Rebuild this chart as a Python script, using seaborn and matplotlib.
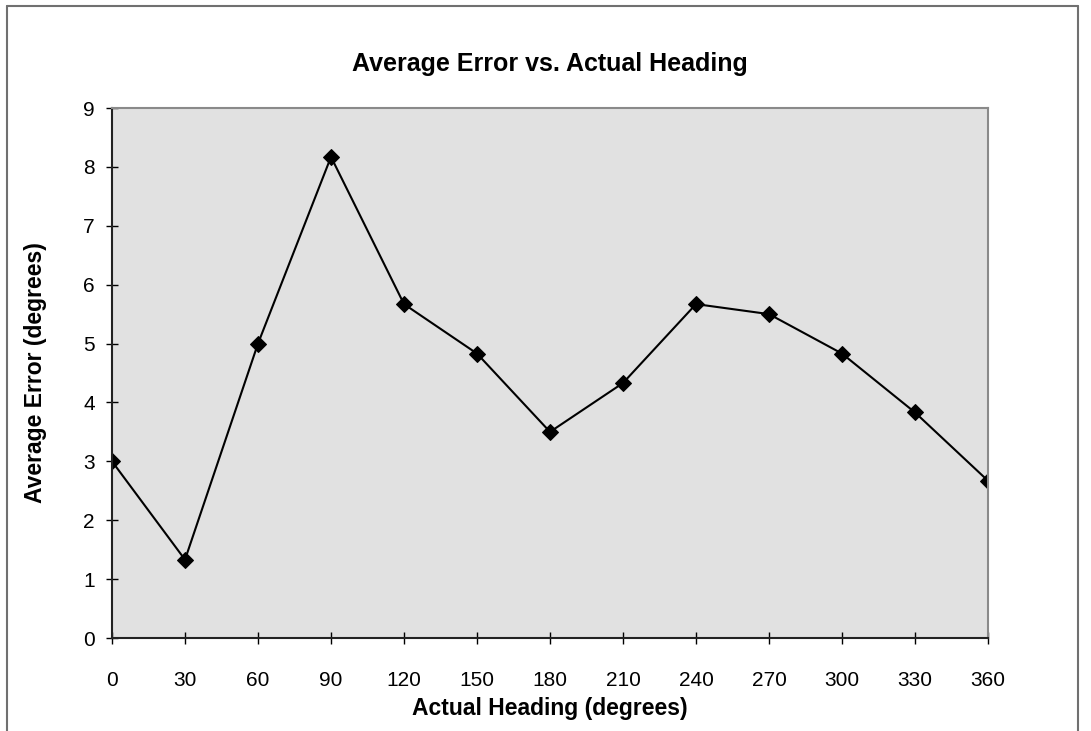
import pandas as pd
import matplotlib.pyplot as plt
import seaborn as sns
from matplotlib.lines import Line2D

heading = [0, 30, 60, 90, 120, 150, 180, 210, 240, 270, 300, 330, 360]
avg_error = [3.0, 1.33, 5.0, 8.17, 5.67, 4.83, 3.5, 4.33, 5.67, 5.5, 4.83, 3.83, 2.67]

df = pd.DataFrame({'heading': heading, 'error': avg_error})

sns.set_style('white')
plt.rcParams['font.family'] = ['Liberation Sans', 'DejaVu Sans']
plt.rcParams['text.color'] = 'black'

fig = plt.figure(figsize=(10.91, 7.31), dpi=100)
ax = fig.add_axes([112 / 1091, 93 / 731, 876 / 1091, 530 / 731])
ax.set_facecolor('#e1e1e1')

sns.lineplot(data=df, x='heading', y='error', ax=ax, color='black', linewidth=1.5,
             marker='D', markersize=8.5, markeredgecolor='black', markerfacecolor='black')

ax.set_xlim(0, 360)
ax.set_ylim(0, 9)
ax.set_xticks(heading)
ax.set_yticks(range(0, 10))
ax.tick_params(axis='both', direction='inout', length=9, width=1, labelsize=15,
               colors='black', bottom=True, left=True)
ax.tick_params(axis='x', pad=19)
ax.tick_params(axis='y', pad=8)

for side in ['left', 'bottom']:
    ax.spines[side].set_color('#222222')
    ax.spines[side].set_linewidth(1.5)
for side in ['top', 'right']:
    ax.spines[side].set_color('#8a8a8a')
    ax.spines[side].set_linewidth(1.5)

ax.set_title('Average Error vs. Actual Heading', fontsize=18, fontweight='bold',
             color='black', pad=27)
ax.set_xlabel('Actual Heading (degrees)', fontsize=16.5, fontweight='bold',
              color='black', labelpad=5)
ax.set_ylabel('Average Error (degrees)', fontsize=16.5, fontweight='bold',
              color='black', labelpad=26)

# chart frame like the spreadsheet export
fx0, fx1 = 6.5 / 1091, 1077.5 / 1091
fy1 = 1 - 6 / 731
frame_kw = dict(transform=fig.transFigure, color='#707070', linewidth=1.5)
fig.add_artist(Line2D([fx0, fx0], [0, fy1], **frame_kw))
fig.add_artist(Line2D([fx0, fx1], [fy1, fy1], **frame_kw))
fig.add_artist(Line2D([fx1, fx1], [0, fy1], **frame_kw))

fig.savefig('out.png', dpi=100)
